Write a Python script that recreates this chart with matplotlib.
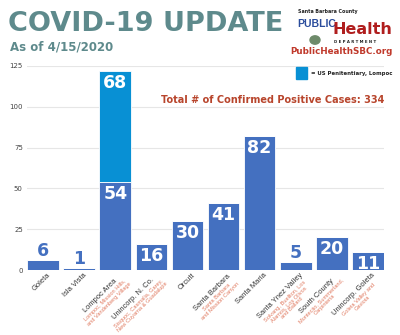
import matplotlib.pyplot as plt
from matplotlib.patches import Circle

# data
areas = ["Goleta", "Isla Vista", "Lompoc Area", "Unincorp. N. Co.", "Orcutt",
         "Santa Barbara", "Santa Maria", "Santa Ynez Valley", "South County",
         "Unincorp. Goleta"]
sub_labels = ["", "", "Lompoc, Mission Hills,\nand Vandenberg Village",
              "Sisquoc, Casmalia, Garey,\nNew Cuyama & Guadalupe", "",
              "Santa Barbara\nand Mission Canyon", "",
              "Solvang, Buellton, Los\nAlamos, Los Olivos\nand Ballard",
              "Montecito, Summerland,\nCarpinteria", "Goleta Valley and\nGaviota"]
cases = [6, 1, 54, 16, 30, 41, 82, 5, 20, 11]
penitentiary = [0, 0, 68, 0, 0, 0, 0, 0, 0, 0]
total = 334

blue = "#4470C0"
light_blue = "#0890D4"
teal = "#5E8A8C"
red = "#B8452C"
salmon = "#E07A60"

fig = plt.figure(figsize=(4, 3.35), dpi=100)
ax = fig.add_axes([0.0675, 0.194, 0.8925, 0.609])

x = range(len(areas))
ax.bar(x, cases, width=0.88, color=blue, edgecolor="white", linewidth=0.6, zorder=2)
ax.bar(x, penitentiary, width=0.88, bottom=cases, color=light_blue,
       edgecolor="white", linewidth=0.6, zorder=2)

for i, v in enumerate(cases):
    if v < 10:
        ax.annotate(str(v), (i, v), xytext=(0, 0), textcoords="offset points",
                    ha="center", va="bottom", fontsize=12.5, fontweight="bold", color=blue)
    else:
        ax.annotate(str(v), (i, v), xytext=(0, -2), textcoords="offset points",
                    ha="center", va="top", fontsize=12.5, fontweight="bold", color="white")
    if penitentiary[i] > 0:
        ax.annotate(str(penitentiary[i]), (i, v + penitentiary[i]), xytext=(0, -2),
                    textcoords="offset points", ha="center", va="top",
                    fontsize=12.5, fontweight="bold", color="white")

ax.set_xlim(-0.45, 9.45)
ax.set_ylim(0, 125)
ax.set_yticks([0, 25, 50, 75, 100, 125])
ax.tick_params(axis="y", length=0, labelsize=5, labelcolor="#444444", pad=3)
ax.set_xticks([])
ax.grid(axis="y", color="#E6E6E6", linewidth=0.8, zorder=0)
for s in ax.spines.values():
    s.set_visible(False)

# rotated category labels; main name and sub-areas centred as one block
renderer = fig.canvas.get_renderer()
main_font = dict(family="Liberation Sans", fontsize=5.4)
sub_font = dict(family="Liberation Sans", fontsize=4.1, linespacing=1.0)


def text_width(s, font):
    t = fig.text(0, 0, s, **font)
    w = t.get_window_extent(renderer).width
    t.remove()
    return w


d = 0.7071
for i, name in enumerate(areas):
    w = text_width(name, main_font)
    if sub_labels[i]:
        w = max(w, text_width(sub_labels[i], sub_font))
    cx = 4 - w / 2 * d
    cy = -2 - w / 2 * d
    ax.annotate(name, (i, 0), xytext=(cx, cy), textcoords="offset pixels",
                rotation=45, rotation_mode="anchor", ha="center", va="top",
                color="#333333", annotation_clip=False, **main_font)
    if sub_labels[i]:
        h = 8
        ax.annotate(sub_labels[i], (i, 0), xytext=(cx + h * d, cy - h * d),
                    textcoords="offset pixels", rotation=45, rotation_mode="anchor",
                    ha="center", va="top", color=salmon, multialignment="center",
                    annotation_clip=False, **sub_font)

# total and legend
ax.text(9.45, 104, "Total # of Confirmed Positive Cases: %d" % total, ha="right",
        va="center", fontsize=7, fontweight="bold", color=red)
fig.patches.append(plt.Rectangle((296 / 400, 1 - 79 / 335), 11 / 400, 12 / 335,
                                 transform=fig.transFigure, color=light_blue))
fig.text(311 / 400, 1 - 73 / 335, "= US Penitentiary, Lompoc", fontsize=3.9,
         fontweight="bold", color="#222222", va="center")

# header
fig.text(8 / 400, 1 - 24 / 335, "COVID-19 UPDATE", fontsize=19.5, fontweight="bold",
         color=teal, va="center")
fig.text(10 / 400, 1 - 47 / 335, "As of 4/15/2020", fontsize=8.5, fontweight="bold",
         color=teal, va="center")

# logo
fig.text(298 / 400, 1 - 12 / 335, "Santa Barbara County", fontsize=3.4,
         fontweight="bold", color="#222222", va="center")
fig.text(297 / 400, 1 - 24 / 335, "PUBLIC", fontsize=7.5, fontweight="bold",
         family=["Liberation Sans Narrow", "Liberation Sans"],
         color="#2A4C9C", va="center")
fig.text(332 / 400, 1 - 29 / 335, "Health", fontsize=11.5, fontweight="bold",
         color="#B01E1E", va="center")
fig.text(334 / 400, 1 - 42 / 335, "D E P A R T M E N T", fontsize=2.8,
         fontweight="bold", color="#222222", va="center")
fig.patches.append(Circle((315 / 400, 1 - 40 / 335), 5 / 400, transform=fig.transFigure,
                          color="#6E8A6A"))
fig.text(341 / 400, 1 - 52 / 335, "PublicHealthSBC.org", fontsize=6.3,
         fontweight="bold", color="#C0392B", va="center", ha="center")

fig.savefig("out.png", dpi=100)
